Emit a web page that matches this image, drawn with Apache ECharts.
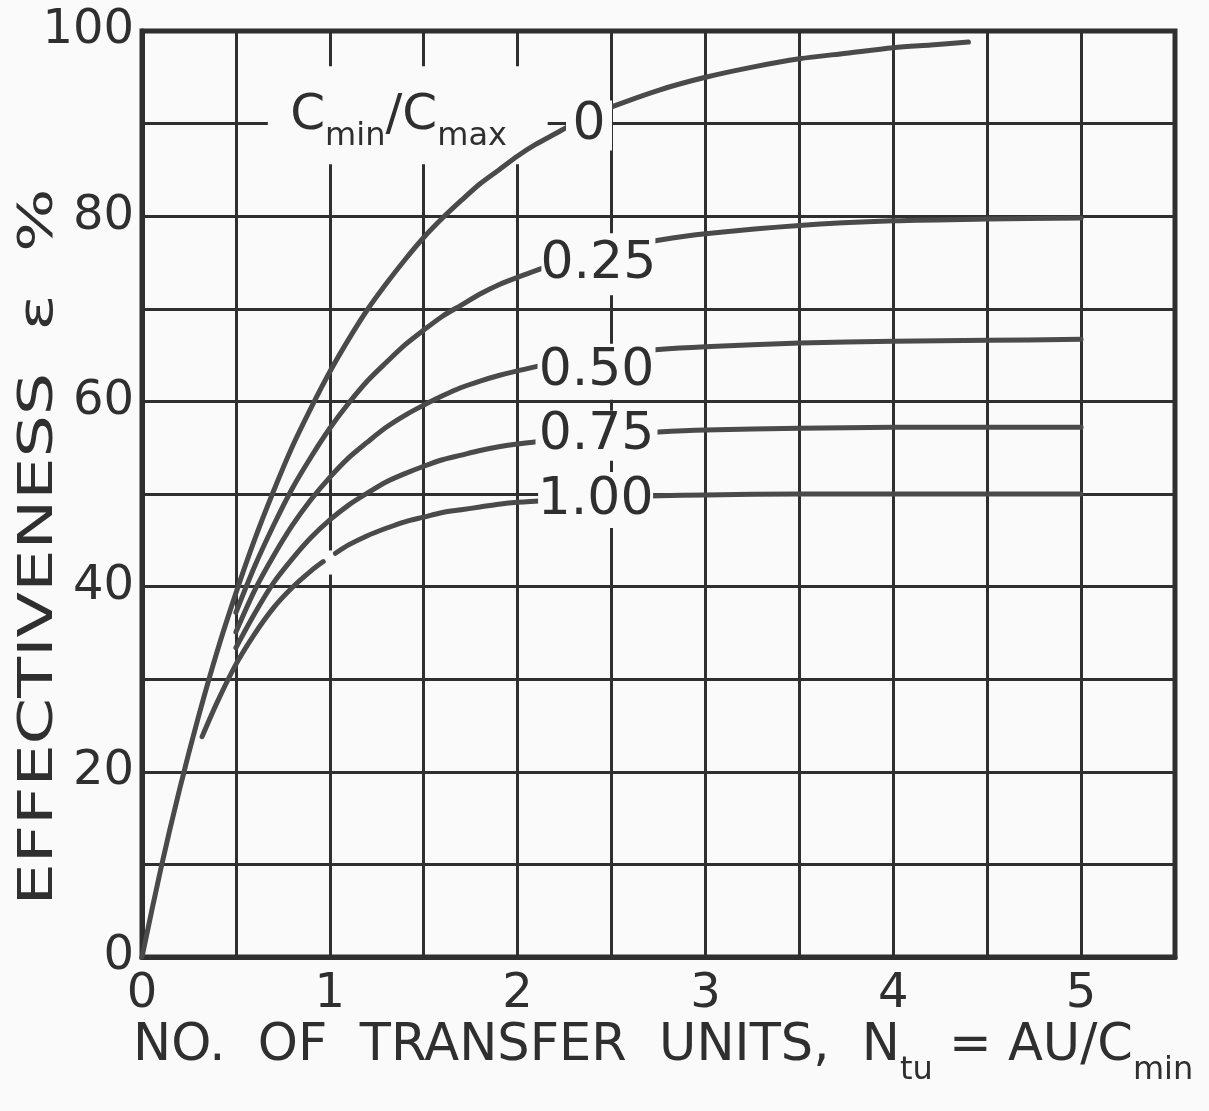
<!DOCTYPE html>
<html>
<head>
<meta charset="utf-8">
<title>Effectiveness vs NTU</title>
<script src="https://cdn.jsdelivr.net/npm/echarts@6/dist/echarts.min.js"></script>
<style>
  html, body { margin: 0; padding: 0; background: #fafafa; }
  #chart { width: 1209px; height: 1111px; }
</style>
</head>
<body>
<div id="chart"></div>
<script>
// Heat-exchanger effectiveness (%) against number of transfer units,
// one curve for each capacity-rate ratio Cmin/Cmax.
const ratioLabels = ['0', '0.25', '0.50', '0.75', '1.00'];

const ntuR0 = [0, 0.1, 0.2, 0.3, 0.4, 0.5, 0.6, 0.7, 0.8, 0.9, 1.0, 1.1, 1.2, 1.3, 1.4, 1.5, 1.6, 1.7, 1.8, 1.9, 2.0,
               2.1, 2.2, 2.3, 2.4, 2.5, 2.75, 3.0, 3.25, 3.5, 3.75, 4.0, 4.2, 4.4];
const effR0 = [0, 9.5, 18.1, 25.9, 33, 39.3, 45.1, 50.3, 55.1, 59.3, 63.2, 66.7, 69.9, 72.7, 75.3, 77.7, 79.8, 81.7, 83.5, 85, 86.5,
               87.8, 88.9, 90, 90.9, 91.8, 93.6, 95, 96.1, 97, 97.6, 98.2, 98.5, 98.8];

const ntuR025 = [0.5, 0.6, 0.7, 0.8, 0.9, 1.0, 1.1, 1.2, 1.3, 1.4, 1.5, 1.6, 1.7, 1.8, 1.9, 2.0, 2.25, 2.5, 2.75, 3.0, 3.5, 4.0, 4.5, 5.0];
const effR025 = [37.2, 42.2, 46.6, 50.6, 54, 57.1, 59.8, 62.2, 64.2, 66.1, 67.7, 69.2, 70.4, 71.6, 72.6, 73.4, 75.2, 76.5, 77.4, 78.1, 79, 79.5, 79.7, 79.8];

const ntuR050 = [0.5, 0.6, 0.7, 0.8, 0.9, 1.0, 1.1, 1.2, 1.3, 1.4, 1.5, 1.6, 1.7, 1.8, 1.9, 2.0, 2.25, 2.5, 2.75, 3.0, 3.5, 4.0, 4.5, 5.0];
const effR050 = [35.1, 39.6, 43.3, 46.6, 49.4, 51.8, 53.9, 55.6, 57.2, 58.5, 59.6, 60.6, 61.5, 62.2, 62.8, 63.3, 64.4, 65.1, 65.6, 65.9, 66.3, 66.5, 66.6, 66.7];

const ntuR075 = [0.5, 0.6, 0.7, 0.8, 0.9, 1.0, 1.1, 1.2, 1.3, 1.4, 1.5, 1.6, 1.7, 1.8, 1.9, 2.0, 2.25, 2.5, 2.75, 3.0, 3.5, 4.0, 4.5, 5.0];
const effR075 = [33.4, 37.1, 40.4, 43, 45.3, 47.2, 48.8, 50.1, 51.3, 52.2, 53, 53.7, 54.2, 54.7, 55.1, 55.4, 56, 56.4, 56.7, 56.9, 57.1, 57.2, 57.2, 57.2];

// the 1.00 curve is drawn in two pieces, broken just at N = 1
const ntuR100 = [0.32, 0.4, 0.5, 0.6, 0.7, 0.8, 0.9, 0.965, 1.0, 1.03, 1.1, 1.2, 1.3, 1.4, 1.5, 1.6, 1.7, 1.8, 1.9, 2.0,
                 2.25, 2.5, 2.75, 3.0, 3.5, 4.0, 4.5, 5.0];
const effR100 = [23.8, 27.5, 31.6, 34.9, 37.7, 39.9, 41.7, 42.7, null, 43.6, 44.5, 45.5, 46.3, 47, 47.5, 48, 48.3, 48.6, 48.9, 49.1,
                 49.4, 49.7, 49.8, 49.9, 50, 50, 50, 50];

const xTicks = [0, 1, 2, 3, 4, 5];
const yTicks = [0, 20, 40, 60, 80, 100];

const PAPER = '#fafafa';
const INK = '#2f2f2f';
const PEN = '#4a4a4a';
const FONT = 'DejaVu Sans';

function pairs(xs, ys) {
  return xs.map((x, i) => [x, ys[i] == null ? '-' : ys[i]]);
}

const curveSets = [
  [ntuR0, effR0], [ntuR025, effR025], [ntuR050, effR050], [ntuR075, effR075], [ntuR100, effR100]
];

// where each ratio tag sits, and the blank patch that sits behind it
const tagPlaces = [
  { coord: [2.38, 89.8], box: [46, 50] },
  { coord: [2.43, 74.8], box: [114, 62] },
  { coord: [2.42, 63.2], box: [118, 56] },
  { coord: [2.42, 56.3], box: [122, 50] },
  { coord: [2.415, 49.35], box: [115, 56] }
];

const tagFont = { fontFamily: FONT, fontSize: 52, color: INK };

const series = curveSets.map(([xs, ys], i) => {
  const s = {
    name: ratioLabels[i],
    type: 'line',
    data: pairs(xs, ys),
    smooth: 0.3,
    showSymbol: false,
    connectNulls: false,
    silent: true,
    lineStyle: { color: PEN, width: 5, cap: 'round', join: 'round' },
    markPoint: {
      silent: true,
      animation: false,
      symbol: 'rect',
      symbolSize: tagPlaces[i].box,
      itemStyle: { color: PAPER },
      label: { show: true, position: 'inside', formatter: '{b}', ...tagFont },
      data: [{ name: ratioLabels[i], coord: tagPlaces[i].coord }]
    }
  };
  if (i === 0) {
    // blank patch behind the ratio heading, and the small break in the N = 1 rule
    s.markArea = {
      silent: true,
      animation: false,
      itemStyle: { color: PAPER },
      data: [
        [{ coord: [0.67, 85.6] }, { coord: [2.16, 96.2] }],
        [{ coord: [0.975, 41.3] }, { coord: [1.025, 43.9] }]
      ]
    };
    s.markPoint.data.push({
      name: 'Cmin/Cmax',
      coord: [1.366, 90.6],
      symbolSize: 0,
      label: {
        show: true,
        position: 'inside',
        formatter: '{c|C}{s|min}{c|/C}{s|max}',
        rich: {
          c: { fontFamily: FONT, fontSize: 50, color: INK, lineHeight: 54, verticalAlign: 'top' },
          s: { fontFamily: FONT, fontSize: 32, color: INK, lineHeight: 32, padding: [30, 0, 0, 0], verticalAlign: 'top' }
        }
      }
    });
  }
  return s;
});

const chart = echarts.init(document.getElementById('chart'));
chart.setOption({
  animation: false,
  backgroundColor: PAPER,
  grid: {
    left: 142, top: 31, width: 1033, height: 926,
    show: true, borderColor: INK, borderWidth: 5, backgroundColor: 'transparent'
  },
  xAxis: {
    type: 'value', min: 0, max: 5.5, interval: 0.5,
    axisLine: { show: true, lineStyle: { color: INK, width: 5 } },
    axisTick: { show: false },
    splitLine: { show: true, lineStyle: { color: INK, width: 3 } },
    axisLabel: {
      fontFamily: FONT, fontSize: 48, color: INK, margin: 14,
      formatter: v => (xTicks.indexOf(v) >= 0 ? String(v) : '')
    }
  },
  yAxis: {
    type: 'value', min: 0, max: 100, interval: 10,
    axisLine: { show: true, lineStyle: { color: INK, width: 5 } },
    axisTick: { show: false },
    splitLine: { show: true, lineStyle: { color: INK, width: 3 } },
    axisLabel: {
      fontFamily: FONT, fontSize: 48, color: INK, margin: 8,
      formatter: v => (yTicks.indexOf(v) >= 0 ? String(v) : '')
    }
  },
  graphic: [
    {
      type: 'text',
      x: 133, y: 1021,
      silent: true,
      style: {
        text: '{a|NO.  OF  TRANSFER  UNITS,  N}{s|tu}{a| = AU/C}{s|min}',
        textVerticalAlign: 'top',
        rich: {
          a: { fontFamily: FONT, fontSize: 51, fill: INK, lineHeight: 55, verticalAlign: 'top' },
          s: { fontFamily: FONT, fontSize: 32, fill: INK, lineHeight: 32, padding: [34, 0, 0, 0], verticalAlign: 'top' }
        }
      }
    },
    {
      type: 'text',
      x: 40, y: 547,
      rotation: Math.PI / 2,
      scaleX: 1.39,
      silent: true,
      style: {
        text: 'EFFECTIVENESS  ε  %',
        fontFamily: FONT, fontSize: 48, fill: INK,
        textAlign: 'center', textVerticalAlign: 'middle'
      }
    }
  ],
  series: series
});
</script>
</body>
</html>
